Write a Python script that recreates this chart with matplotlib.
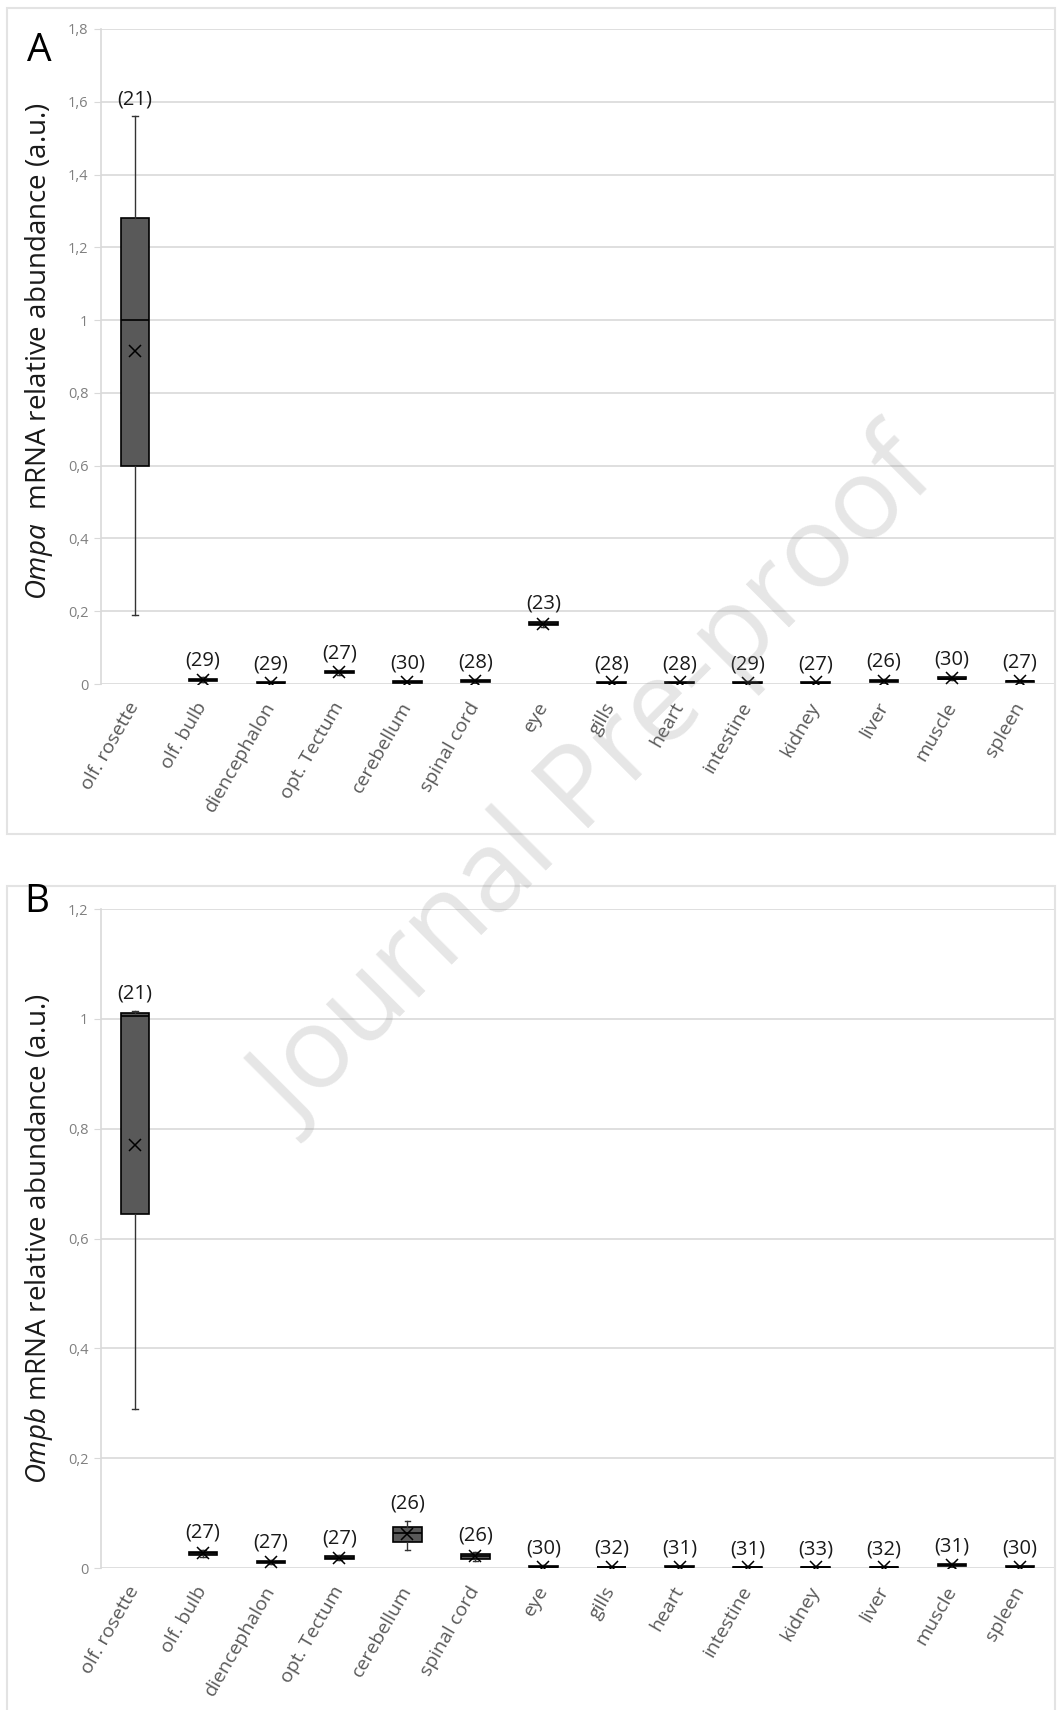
import numpy as np
import matplotlib.pyplot as plt
from matplotlib.patches import Rectangle
from matplotlib.ticker import FuncFormatter

TISSUES = ["olf. rosette", "olf. bulb", "diencephalon", "opt. Tectum",
           "cerebellum", "spinal cord", "eye", "gills", "heart",
           "intestine", "kidney", "liver", "muscle", "spleen"]

# Ompa expression (box plot summary per tissue)
OMPA_N = [21, 29, 29, 27, 30, 28, 23, 28, 28, 29, 27, 26, 30, 27]
OMPA_WHISLO = [0.19, 0.006, 0.001, 0.026, 0.002, 0.003, 0.158, 0.001, 0.001, 0.001, 0.001, 0.004, 0.010, 0.003]
OMPA_Q1 = [0.60, 0.009, 0.003, 0.029, 0.004, 0.005, 0.161, 0.003, 0.003, 0.002, 0.003, 0.006, 0.013, 0.005]
OMPA_MED = [1.00, 0.012, 0.004, 0.032, 0.005, 0.007, 0.165, 0.004, 0.004, 0.003, 0.004, 0.008, 0.015, 0.007]
OMPA_Q3 = [1.28, 0.015, 0.006, 0.035, 0.007, 0.010, 0.170, 0.006, 0.006, 0.005, 0.006, 0.011, 0.018, 0.009]
OMPA_WHISHI = [1.56, 0.018, 0.008, 0.038, 0.009, 0.013, 0.174, 0.008, 0.008, 0.007, 0.008, 0.014, 0.021, 0.012]
OMPA_MEAN = [0.915, 0.012, 0.004, 0.032, 0.006, 0.008, 0.166, 0.005, 0.005, 0.004, 0.005, 0.009, 0.016, 0.008]

# Ompb expression
OMPB_N = [21, 27, 27, 27, 26, 26, 30, 32, 31, 31, 33, 32, 31, 30]
OMPB_WHISLO = [0.29, 0.020, 0.007, 0.014, 0.032, 0.012, 0.000, 0.000, 0.000, 0.000, 0.000, 0.000, 0.002, 0.000]
OMPB_Q1 = [0.645, 0.024, 0.009, 0.017, 0.048, 0.017, 0.001, 0.001, 0.001, 0.000, 0.000, 0.000, 0.003, 0.001]
OMPB_MED = [1.005, 0.027, 0.011, 0.019, 0.063, 0.021, 0.002, 0.002, 0.002, 0.001, 0.001, 0.001, 0.005, 0.002]
OMPB_Q3 = [1.010, 0.030, 0.013, 0.021, 0.075, 0.025, 0.003, 0.002, 0.003, 0.002, 0.002, 0.002, 0.007, 0.003]
OMPB_WHISHI = [1.015, 0.033, 0.015, 0.023, 0.086, 0.029, 0.005, 0.004, 0.004, 0.003, 0.003, 0.003, 0.009, 0.004]
OMPB_MEAN = [0.77, 0.027, 0.011, 0.019, 0.062, 0.021, 0.002, 0.002, 0.002, 0.001, 0.001, 0.001, 0.005, 0.002]

W, H, DPI = 1057, 1710, 100
GRID = "#d9d9d9"

plt.rcParams["font.family"] = ["Open Sans", "DejaVu Sans"]
plt.rcParams["mathtext.fontset"] = "custom"
plt.rcParams["mathtext.it"] = "Open Sans:italic"
plt.rcParams["mathtext.rm"] = "Open Sans"


def px_rect(left, top, right, bottom):
    """Pixel box -> figure fraction [x, y, w, h]."""
    return [left / W, 1 - bottom / H, (right - left) / W, (bottom - top) / H]


def comma_fmt(v, _pos):
    return ("%g" % round(v, 1)).replace(".", ",")


def draw_panel(ax, n, whislo, q1, med, q3, whishi, mean, ymax):
    stats = []
    for i in range(len(TISSUES)):
        stats.append(dict(whislo=whislo[i], q1=q1[i], med=med[i], q3=q3[i],
                          whishi=whishi[i], mean=mean[i], fliers=[]))
    pos = np.arange(len(TISSUES))
    ax.bxp(stats, positions=pos, widths=0.42, capwidths=0.08,
           showmeans=True, showfliers=False, patch_artist=True,
           boxprops=dict(facecolor="#595959", edgecolor="black", linewidth=1.2),
           medianprops=dict(color="black", linewidth=1.2),
           whiskerprops=dict(color="#333333", linewidth=1.0),
           capprops=dict(color="#333333", linewidth=1.0),
           meanprops=dict(marker="x", markeredgecolor="black",
                          markerfacecolor="black", markersize=9,
                          markeredgewidth=1.1),
           zorder=3)
    for i, cnt in enumerate(n):
        ax.annotate(f"({cnt})", xy=(pos[i], whishi[i]), xytext=(0, 5),
                    textcoords="offset points", ha="center", va="bottom",
                    fontsize=14.5, color="#1a1a1a", zorder=4)

    ax.set_xlim(-0.5, len(TISSUES) - 0.5)
    ax.set_ylim(0, ymax)
    ax.set_yticks(np.arange(0, ymax + 0.01, 0.2))
    ax.yaxis.set_major_formatter(FuncFormatter(comma_fmt))
    ax.set_xticks(pos)
    ax.set_xticklabels(TISSUES, rotation=60, ha="right", va="center",
                       rotation_mode="anchor", fontsize=14, color="#595959")
    ax.tick_params(axis="x", length=0, pad=14)
    ax.tick_params(axis="y", length=5, color=GRID, labelcolor="#808080",
                   labelsize=10.5, pad=4)
    ax.grid(axis="y", color=GRID, linewidth=1.2, zorder=0)
    ax.set_axisbelow(True)
    for side in ("top", "right", "bottom"):
        ax.spines[side].set_visible(False)
    ax.spines["left"].set_color(GRID)
    ax.spines["left"].set_linewidth(1.2)


fig = plt.figure(figsize=(W / DPI, H / DPI), dpi=DPI)

# panel frames
for (l, t, r, b) in [(7, 8, 1055, 834), (7, 886, 1055, 1712)]:
    x, y, w, h = px_rect(l, t, r, b)
    fig.patches.append(Rectangle((x, y), w, h, transform=fig.transFigure,
                                 fill=False, edgecolor="#e3e3e3", linewidth=1.5))

ax_a = fig.add_axes(px_rect(101, 29, 1054, 684))
draw_panel(ax_a, OMPA_N, OMPA_WHISLO, OMPA_Q1, OMPA_MED, OMPA_Q3,
           OMPA_WHISHI, OMPA_MEAN, 1.8)

ax_b = fig.add_axes(px_rect(101, 909, 1054, 1568))
draw_panel(ax_b, OMPB_N, OMPB_WHISLO, OMPB_Q1, OMPB_MED, OMPB_Q3,
           OMPB_WHISHI, OMPB_MEAN, 1.2)

fig.text(39 / W, 1 - 351 / H, r"$\it{Ompa}$  mRNA relative abundance (a.u.)",
         rotation=90, ha="center", va="center", fontsize=20, color="#1a1a1a")
fig.text(39 / W, 1 - 1238 / H, r"$\it{Ompb}$ mRNA relative abundance (a.u.)",
         rotation=90, ha="center", va="center", fontsize=20, color="#1a1a1a")

fig.text(39 / W, 1 - 51 / H, "A", ha="center", va="center", fontsize=28)
fig.text(37 / W, 1 - 902 / H, "B", ha="center", va="center", fontsize=28)

# watermark
fig.text(598 / W, 1 - 785 / H, "Journal Pre-proof", rotation=45,
         ha="center", va="center", fontsize=82, color="#808080", alpha=0.2,
         rotation_mode="anchor", zorder=10)

fig.savefig("out.png", dpi=DPI)
